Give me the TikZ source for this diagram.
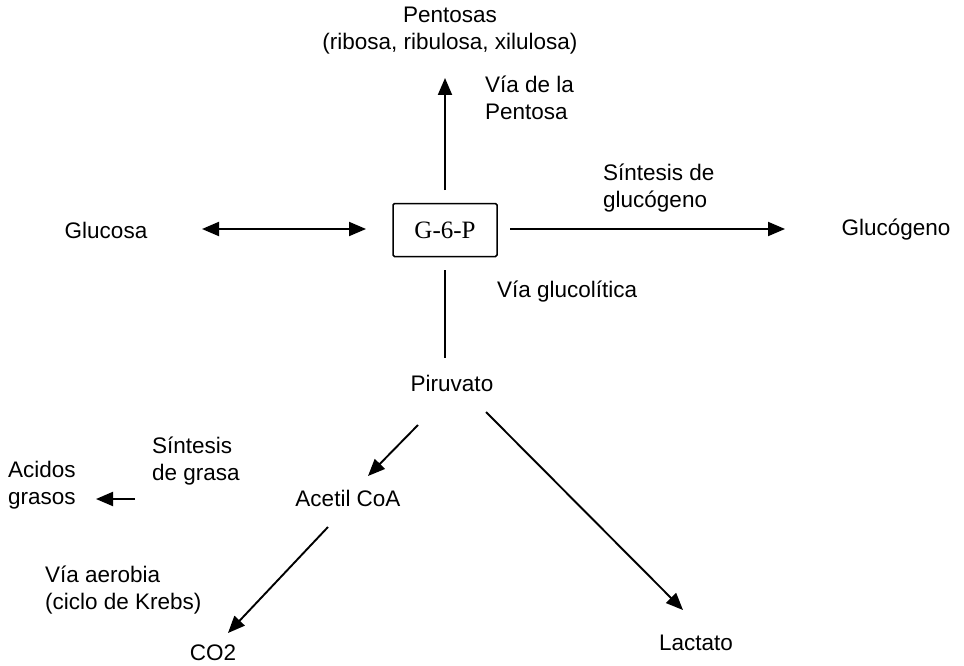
\documentclass[tikz,border=0pt]{standalone}
\usepackage{fontspec}
\setmainfont{Liberation Sans}
\newfontfamily\serifbox{Liberation Serif}
\usetikzlibrary{arrows.meta}
\begin{document}
\begin{tikzpicture}[x=1pt,y=-1pt,
  lbl/.style={inner sep=0pt,font=\fontsize{22.5}{27}\selectfont},
  tip/.tip={Triangle[length=17pt,width=14pt]},
  conn/.style={line width=1.9pt,-tip},
  plain/.style={line width=1.9pt}]
\useasboundingbox[fill=white] (0,0) rectangle (964,666);
% nodes
\node[lbl,align=center] (pent) at (450,31) {Pentosas\\(ribosa, ribulosa, xilulosa)};
\node[lbl,align=left,anchor=west] (vpent) at (485,98) {Vía de la\\Pentosa};
\node[draw,line width=1.5pt,rounded corners=1.5pt,minimum width=104pt,minimum height=53pt,font=\serifbox\fontsize{25}{28}\selectfont] (g6p) at (445,230) {G-6-P};
\node[lbl] (gluc) at (106,230) {Glucosa};
\node[lbl] (glucg) at (896,230) {Glucógeno};
\node[lbl,align=left,anchor=west] (sglu) at (603,188) {Síntesis de\\glucógeno};
\node[lbl,anchor=west] (vglu) at (497,292) {Vía glucolítica};
\node[lbl] (piru) at (452,383) {Piruvato};
\node[lbl] (acet) at (348,498) {Acetil CoA};
\node[lbl] (lact) at (696,643) {Lactato};
\node[lbl] (co2) at (213,653) {CO2};
\node[lbl,align=left,anchor=west] (acid) at (8,485) {Acidos\\grasos};
\node[lbl,align=left,anchor=west] (sgra) at (152,461) {Síntesis\\de grasa};
\node[lbl,align=left,anchor=west] (vaer) at (45,590) {Vía aerobia\\(ciclo de Krebs)};
% connector end points
\coordinate (upS) at (445,190);
\coordinate (upE) at (445,78);
\coordinate (dblS) at (202,229);
\coordinate (dblE) at (366,229);
\coordinate (rS) at (510,229);
\coordinate (rE) at (785,229);
\coordinate (dS) at (445,270);
\coordinate (dE) at (445,358);
\coordinate (paS) at (418,425);
\coordinate (paE) at (368,476);
\coordinate (plS) at (486,412);
\coordinate (plE) at (683,610);
\coordinate (acS) at (328,527);
\coordinate (acE) at (228,633);
\coordinate (lfS) at (135,499);
\coordinate (lfE) at (96,499);
% connectors
\draw[conn] (upS) -- (upE);
\draw[conn,tip-tip] (dblS) -- (dblE);
\draw[conn] (rS) -- (rE);
\draw[plain] (dS) -- (dE);
\draw[conn] (paS) -- (paE);
\draw[conn] (plS) -- (plE);
\draw[conn] (acS) -- (acE);
\draw[conn] (lfS) -- (lfE);
\end{tikzpicture}
\end{document}
